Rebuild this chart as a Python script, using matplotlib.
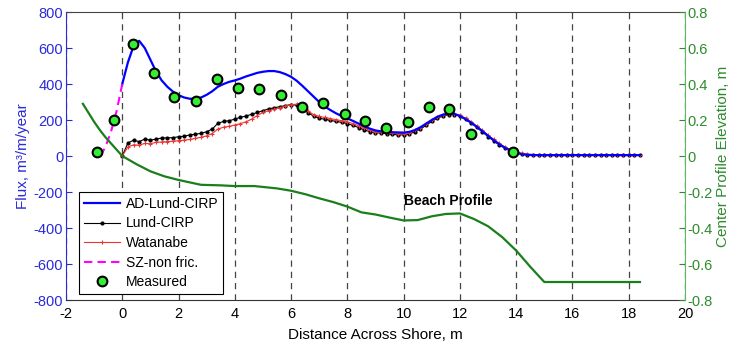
import numpy as np
from matplotlib import pyplot as plt

plt.rcParams['font.family'] = ['Liberation Sans', 'DejaVu Sans']
plt.rcParams['axes.unicode_minus'] = False

# data

x_model = np.round(np.arange(0, 18.41, 0.2), 1)

ad_lund = [400, 520, 610, 640, 600, 535, 470, 420, 385, 358,
           338, 325, 318, 318, 325, 340, 360, 385, 400, 412,
           420, 430, 442, 452, 462, 468, 472, 472, 466, 455,
           440, 418, 390, 360, 330, 300, 275, 255, 237, 222,
           209, 195, 180, 165, 152, 142, 137, 134, 132, 131,
           130, 134, 144, 160, 180, 200, 218, 230, 236, 235,
           222, 205, 185, 162, 138, 112, 88, 65, 46, 30,
           18, 10, 7, 5, 5, 5, 5, 5, 5, 5,
           5, 5, 5, 5, 5, 5, 5, 5, 5, 5,
           5, 5, 5]

lund = [0, 72, 88, 80, 94, 88, 94, 100, 101, 102,
        107, 110, 117, 121, 126, 135, 150, 182, 192, 196,
        205, 215, 222, 232, 242, 252, 262, 268, 274, 280,
        286, 282, 265, 240, 222, 210, 204, 198, 192, 187,
        180, 170, 158, 145, 135, 130, 127, 124, 120, 118,
        117, 122, 135, 150, 170, 192, 210, 222, 230, 230,
        222, 205, 185, 160, 135, 108, 85, 62, 44, 30,
        20, 12, 8, 5, 5, 5, 5, 5, 5, 5,
        5, 5, 5, 5, 5, 5, 5, 5, 5, 5,
        5, 5, 5]

watanabe = [0, 50, 62, 60, 70, 68, 76, 78, 80, 82,
            85, 88, 92, 98, 104, 112, 125, 150, 160, 165,
            172, 180, 190, 205, 225, 242, 252, 260, 268, 278,
            285, 288, 275, 250, 230, 220, 214, 208, 202, 196,
            190, 180, 168, 155, 142, 135, 132, 128, 126, 125,
            125, 130, 142, 158, 178, 198, 215, 226, 233, 233,
            226, 210, 190, 166, 142, 116, 92, 70, 50, 36,
            24, 15, 10, 8, 6, 5, 5, 5, 5, 5,
            5, 5, 5, 5, 5, 5, 5, 5, 5, 5,
            5, 5, 5]

sz_x = [-0.78, -0.6, -0.4, -0.2, 0.0]
sz_flux = [0, 50, 135, 250, 400]

meas_x = [-0.91, -0.31, 0.38, 1.13, 1.85, 2.63, 3.38, 4.13, 4.86, 5.63,
          6.38, 7.14, 7.9, 8.64, 9.38, 10.14, 10.89, 11.61, 12.4, 13.89]
meas_flux = [20, 200, 620, 460, 330, 305, 430, 380, 370, 340,
             270, 295, 235, 195, 155, 190, 275, 260, 120, 25]

prof_x = [-1.4, -1.2, -1.0, -0.8, -0.6, -0.4, -0.2, 0.0, 0.5, 1.0,
          1.5, 2.0, 2.5, 2.8, 3.5, 4.0, 4.7, 5.5, 6.0, 6.5,
          7.0, 7.5, 8.0, 8.5, 9.0, 9.5, 10.0, 10.5, 11.0, 11.5,
          12.0, 12.5, 13.0, 13.5, 14.0, 14.5, 15.0, 18.4]
prof_z = [0.29, 0.24, 0.19, 0.145, 0.105, 0.07, 0.035, 0.0, -0.045, -0.085,
          -0.113, -0.133, -0.15, -0.16, -0.163, -0.167, -0.167, -0.18, -0.193, -0.212,
          -0.235, -0.256, -0.281, -0.313, -0.325, -0.342, -0.358, -0.356, -0.335, -0.322,
          -0.319, -0.35, -0.39, -0.45, -0.525, -0.615, -0.70, -0.70]

left_ticks = [-800, -600, -400, -200, 0, 200, 400, 600, 800]
right_ticks = [-0.8, -0.6, -0.4, -0.2, 0, 0.2, 0.4, 0.6, 0.8]
right_labels = ['-0.8', '-0.6', '-0.4', '-0.2', '0', '0.2', '0.4', '0.6', '0.8']
x_ticks = [-2, 0, 2, 4, 6, 8, 10, 12, 14, 16, 18, 20]

blue = '#0000ff'
tick_blue = '#2a2ad8'
green_line = '#1a7f1a'
green_text = '#2e8b2e'
green_spine = '#5cb85c'

fig = plt.figure(figsize=(7.34, 3.45), dpi=100)
ax = fig.add_axes([0.0899, 0.1304, 0.8433, 0.8348])
ax2 = ax.twinx()

# flux curves
l1, = ax.plot(x_model, ad_lund, color=blue, lw=1.6, label='AD-Lund-CIRP', zorder=4)
l2, = ax.plot(x_model, lund, color='k', lw=0.8, marker='.', ms=4, label='Lund-CIRP', zorder=3)
l3, = ax.plot(x_model, watanabe, color='#ee3333', lw=0.8, marker='+', ms=3.5, mew=0.8,
              label='Watanabe', zorder=3)
l4, = ax.plot(sz_x, sz_flux, color='#ff00ff', lw=1.5, ls=(0, (4, 2.5)), label='SZ-non fric.', zorder=4)
l5, = ax.plot(meas_x, meas_flux, ls='none', marker='o', ms=7, mfc='#33ee33', mec='k', mew=1.5,
              label='Measured', zorder=5)

ax.set_xlim(-2, 20)
ax.set_ylim(-800, 800)
ax.set_xticks(x_ticks)
ax.set_yticks(left_ticks)
ax.grid(axis='x', color='#444444', ls=(0, (5, 4)), lw=0.9)
ax.tick_params(axis='both', direction='in', length=4, labelsize=10.5, pad=2)
ax.tick_params(axis='y', colors=tick_blue)
ax.tick_params(axis='x', colors='k', length=0, pad=5)
ax.set_xlabel('Distance Across Shore, m', fontsize=11, labelpad=5)
ax.set_ylabel('Flux, m³/m/year', fontsize=11, color=tick_blue, labelpad=3)
ax.spines['left'].set_color(tick_blue)
ax.spines['top'].set_color('#444444')
ax.spines['right'].set_visible(False)
ax.spines['bottom'].set_color('#333333')

# beach profile on the right axis
ax2.plot(prof_x, prof_z, color=green_line, lw=1.6, zorder=2)
ax2.set_ylim(-0.8, 0.8)
ax2.set_yticks(right_ticks)
ax2.set_yticklabels(right_labels)
ax2.tick_params(axis='y', direction='in', length=4, labelsize=10.5, pad=2, colors=green_text)
ax2.spines['right'].set_color(green_spine)
ax2.spines['left'].set_visible(False)
ax2.spines['top'].set_visible(False)
ax2.spines['bottom'].set_visible(False)
ax2.set_ylabel('Center Profile Elevation, m', fontsize=11, color=green_text, labelpad=2)
ax2.text(10.03, -0.25, 'Beach Profile', fontsize=10, fontweight='bold', va='center', ha='left')

leg = ax2.legend(handles=[l1, l2, l3, l4, l5], loc='lower left', bbox_to_anchor=(0.021, 0.021),
                 borderaxespad=0, fontsize=10, fancybox=False, framealpha=1,
                 edgecolor='k', handlelength=2.6, labelspacing=0.4, borderpad=0.35,
                 handletextpad=0.4)
leg.get_frame().set_linewidth(0.8)
leg.set_zorder(10)

fig.savefig('out.png', dpi=100)
